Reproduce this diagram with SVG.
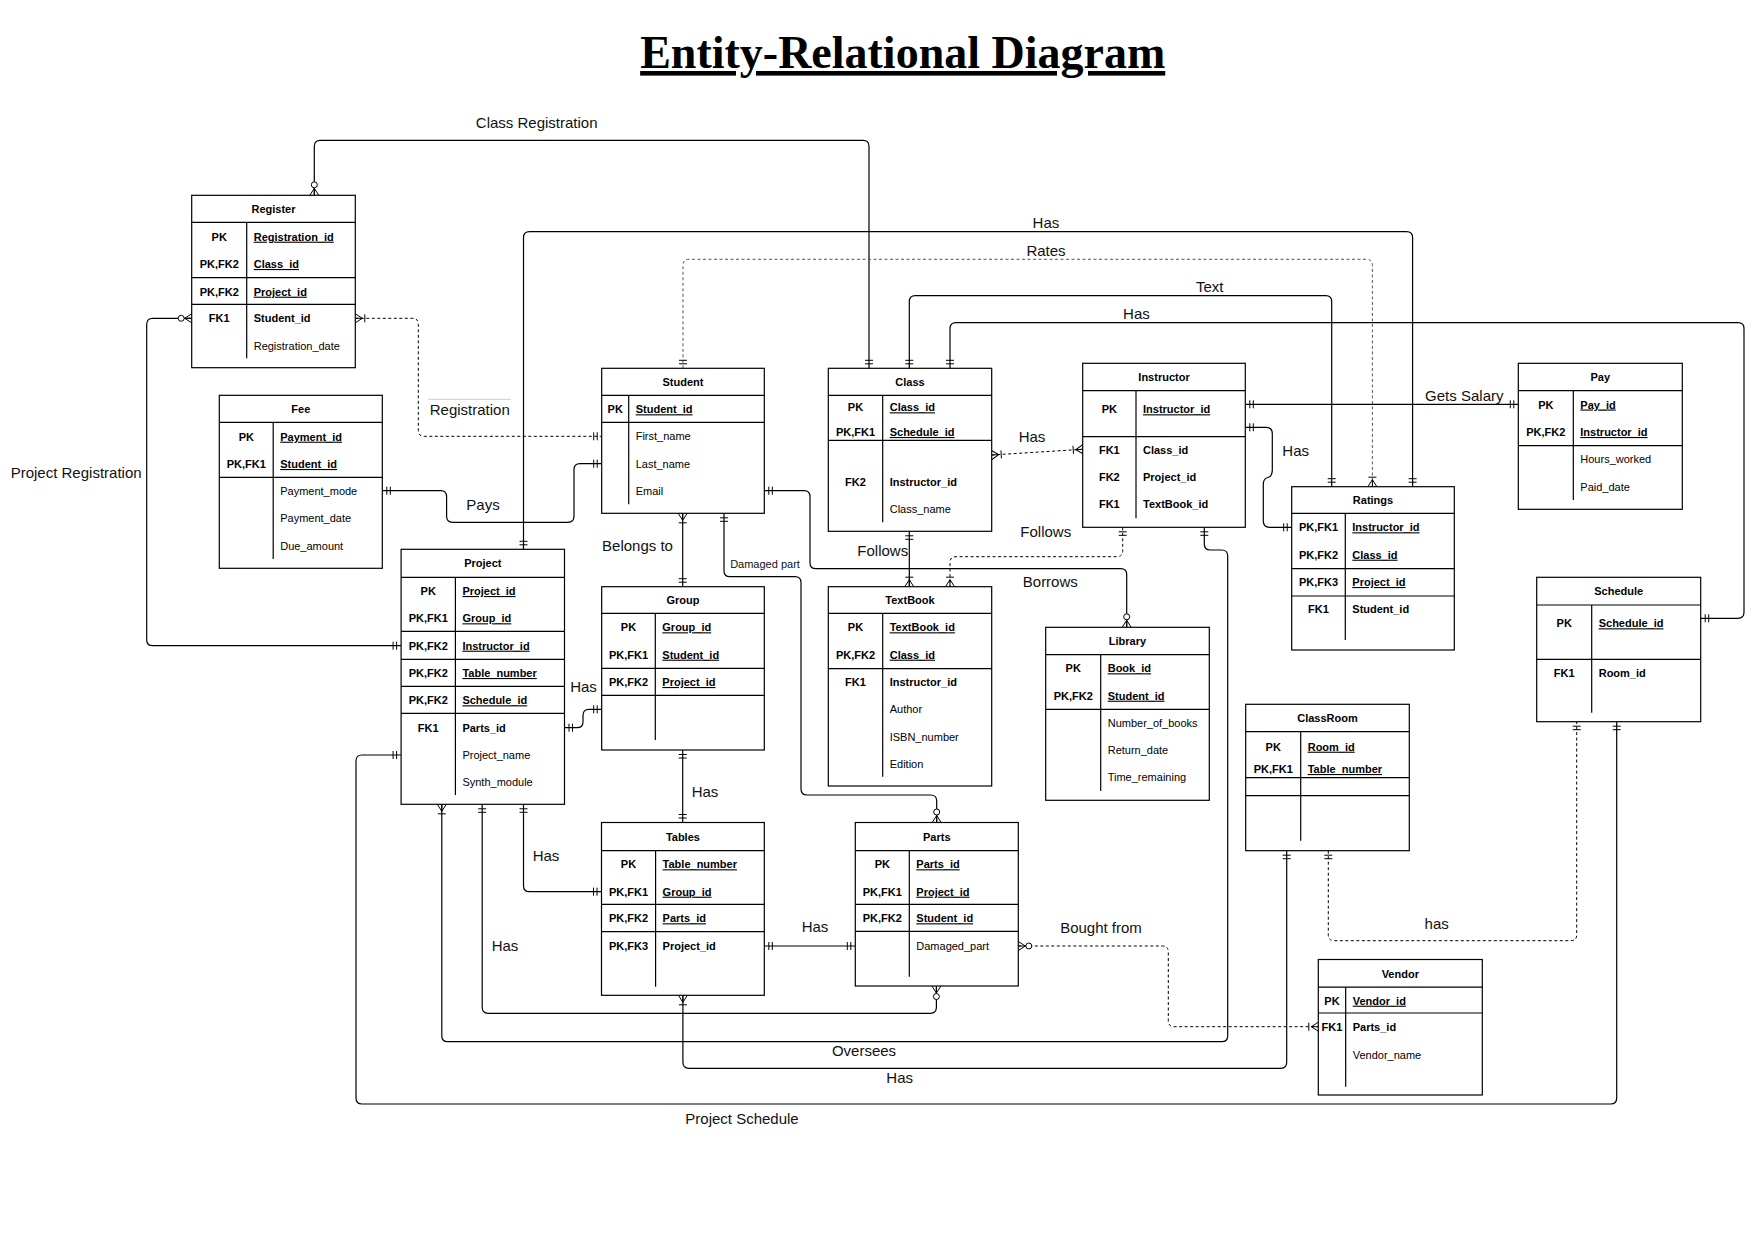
<svg xmlns="http://www.w3.org/2000/svg" width="1755" height="1240" viewBox="0 0 1755 1240">
<style>
.t{font-family:"Liberation Sans",Arial,sans-serif;font-size:11px;fill:#000}
.b{font-weight:bold}
.u{font-weight:bold;text-decoration:underline}
.m{text-anchor:middle}
.k{font-weight:bold;text-anchor:middle}
.lbl{font-family:"Liberation Sans",Arial,sans-serif;font-size:15px;fill:#111;text-anchor:middle}
.box{fill:#fff;stroke:#000;stroke-width:1.2}
.ln{fill:none;stroke:#000;stroke-width:1.2}
.c{fill:none;stroke:#000;stroke-width:1.2}
.d{stroke-dasharray:3 2.5;stroke-width:1}
.ms{fill:none;stroke:#000;stroke-width:1}
</style>
<defs>
<marker id="one" viewBox="-16 -8 18 16" markerWidth="18" markerHeight="16" refX="0" refY="0" orient="auto-start-reverse" markerUnits="userSpaceOnUse"><path class="ms" d="M-4.5,-4V4M-8,-4V4"/></marker>
<marker id="onemany" viewBox="-16 -8 18 16" markerWidth="18" markerHeight="16" refX="0" refY="0" orient="auto-start-reverse" markerUnits="userSpaceOnUse"><path class="ms" d="M0,-4.5L-7,0L0,4.5M-7,0H0M-9.5,-4V4"/></marker>
<marker id="zeromany" viewBox="-16 -8 18 16" markerWidth="18" markerHeight="16" refX="0" refY="0" orient="auto-start-reverse" markerUnits="userSpaceOnUse"><path class="ms" d="M0,-4.5L-7,0L0,4.5M-7,0H0"/><circle cx="-10.5" cy="0" r="3" fill="#fff" stroke="#000" stroke-width="1"/></marker>
</defs>
<rect width="1755" height="1240" fill="#fff"/>
<text x="902.7" y="68" font-family="'Liberation Serif','Times New Roman',serif" font-size="46" font-weight="bold" text-anchor="middle" text-decoration="underline">Entity-Relational Diagram</text>

<g id="connectors">
<path class="c" marker-start="url(#zeromany)" marker-end="url(#one)" d="M314.3,195.3V146.3Q314.3,140.3 320.3,140.3H863Q869,140.3 869,146.3V368.3"/>
<path class="c" marker-start="url(#one)" marker-end="url(#one)" d="M523.5,549.3V237.7Q523.5,231.7 529.5,231.7H1406.6Q1412.6,231.7 1412.6,237.7V486.7"/>
<path class="c d" marker-start="url(#one)" marker-end="url(#onemany)" d="M683,368.3V265.3Q683,259.3 689,259.3H1366.4Q1372.4,259.3 1372.4,265.3V486.7" style="stroke:#555"/>
<path class="c" marker-start="url(#one)" marker-end="url(#one)" d="M909.3,368.3V301.7Q909.3,295.7 915.3,295.7H1325.7Q1331.7,295.7 1331.7,301.7V486.7"/>
<path class="c" marker-start="url(#one)" marker-end="url(#one)" d="M950,368.3V328.7Q950,322.7 956,322.7H1738Q1744,322.7 1744,328.7V612.3Q1744,618.3 1738,618.3H1700.7"/>
<path class="c" marker-start="url(#zeromany)" marker-end="url(#one)" d="M191.7,318.3H152.7Q146.7,318.3 146.7,324.3V639.7Q146.7,645.7 152.7,645.7H401.1"/>
<path class="c d" marker-start="url(#onemany)" marker-end="url(#one)" d="M355.3,318.3H412.3Q418.3,318.3 418.3,324.3V430.3Q418.3,436.3 424.3,436.3H601.7"/>
<path class="c" marker-start="url(#one)" marker-end="url(#one)" d="M382.3,490.7H440.6Q446.6,490.7 446.6,496.7V516.3Q446.6,522.3 452.6,522.3H568Q574,522.3 574,516.3V469.7Q574,463.7 580,463.7H601.7"/>
<path class="c" marker-start="url(#onemany)" marker-end="url(#one)" d="M682.7,513.3V586.7"/>
<path class="c" marker-start="url(#one)" marker-end="url(#zeromany)" d="M724,513.3V570.7Q724,576.7 730,576.7H795Q801,576.7 801,582.7V789Q801,795 807,795H930.7Q936.7,795 936.7,801V822.5"/>
<path class="c" marker-start="url(#one)" marker-end="url(#zeromany)" d="M764.3,490.7H804Q810,490.7 810,496.7V562.7Q810,568.7 816,568.7H1120.7Q1126.7,568.7 1126.7,574.7V627.3"/>
<path class="c" marker-start="url(#one)" marker-end="url(#one)" d="M564.5,727.7H577Q583,727.7 583,721.7V715.3Q583,709.3 589,709.3H601.7"/>
<path class="c" marker-start="url(#one)" marker-end="url(#one)" d="M682.7,750V822.5"/>
<path class="c" marker-start="url(#one)" marker-end="url(#onemany)" d="M909.3,531.3V586.7"/>
<path class="c d" marker-start="url(#onemany)" marker-end="url(#onemany)" d="M991.7,455L1082.7,449.3"/>
<path class="c d" marker-start="url(#one)" marker-end="url(#onemany)" d="M1122.7,527.3V550.7Q1122.7,556.7 1116.7,556.7H956Q950,556.7 950,562.7V586.7"/>
<path class="c" marker-start="url(#one)" marker-end="url(#one)" d="M1245.3,404.3H1518.3"/>
<path class="c" marker-start="url(#one)" marker-end="url(#one)" d="M1245.3,427.3H1266Q1272.3,427.3 1272.3,433.6V470Q1272.3,476.5 1267.8,477.5Q1263.3,478.5 1263.3,484.5V521Q1263.3,527.3 1269.6,527.3H1291.7"/>
<path class="c" marker-start="url(#one)" marker-end="url(#onemany)" d="M1204.3,527.3V544Q1204.3,550 1210.3,550H1221.7Q1227.7,550 1227.7,556V1035.7Q1227.7,1041.7 1221.7,1041.7H447.8Q441.8,1041.7 441.8,1035.7V804.3"/>
<path class="c" marker-start="url(#one)" marker-end="url(#zeromany)" d="M482.2,804.3V1007.3Q482.2,1013.3 488.2,1013.3H930.4Q936.4,1013.3 936.4,1007.3V986"/>
<path class="c" marker-start="url(#one)" marker-end="url(#one)" d="M523.5,804.3V885.7Q523.5,891.7 529.5,891.7H601.5"/>
<path class="c" marker-start="url(#one)" marker-end="url(#one)" d="M764.3,946H855.3"/>
<path class="c d" marker-start="url(#zeromany)" marker-end="url(#onemany)" d="M1018.3,946H1162.3Q1168.3,946 1168.3,952V1020.7Q1168.3,1026.7 1174.3,1026.7H1318.3"/>
<path class="c" marker-start="url(#onemany)" marker-end="url(#one)" d="M682.9,995.3V1062.3Q682.9,1068.3 688.9,1068.3H1280.7Q1286.7,1068.3 1286.7,1062.3V850.7"/>
<path class="c d" marker-start="url(#one)" marker-end="url(#one)" d="M1328.3,850.7V934.7Q1328.3,940.7 1334.3,940.7H1570.7Q1576.7,940.7 1576.7,934.7V721.7"/>
<path class="c" marker-start="url(#one)" marker-end="url(#one)" d="M401.1,755H362Q356,755 356,761V1098Q356,1104 362,1104H1610.7Q1616.7,1104 1616.7,1098V721.7"/>
<line x1="428" y1="399.3" x2="511" y2="399.3" stroke="#ccc" stroke-width="1"/>
</g>

<g id="labels">
<text class="lbl" x="536.7" y="128.2">Class Registration</text>
<text class="lbl" x="1045.9" y="228.2">Has</text>
<text class="lbl" x="1046" y="255.5">Rates</text>
<text class="lbl" x="1209.8" y="291.5">Text</text>
<text class="lbl" x="1136.4" y="318.8">Has</text>
<text class="lbl" x="469.8" y="414.8">Registration</text>
<text class="lbl" x="483" y="509.8">Pays</text>
<text class="lbl" x="10.7" y="478.2" style="text-anchor:start">Project Registration</text>
<text class="lbl" x="637.5" y="550.5">Belongs to</text>
<text class="lbl" x="765" y="568.3" style="font-size:11px">Damaged part</text>
<text class="lbl" x="583.5" y="691.5">Has</text>
<text class="lbl" x="705" y="796.5">Has</text>
<text class="lbl" x="546" y="860.5">Has</text>
<text class="lbl" x="505" y="951.2">Has</text>
<text class="lbl" x="815" y="932.2">Has</text>
<text class="lbl" x="864" y="1055.5">Oversees</text>
<text class="lbl" x="899.7" y="1082.8">Has</text>
<text class="lbl" x="742" y="1123.8">Project Schedule</text>
<text class="lbl" x="1101" y="932.8">Bought from</text>
<text class="lbl" x="1436.7" y="928.8">has</text>
<text class="lbl" x="1032" y="441.5">Has</text>
<text class="lbl" x="882.8" y="555.5">Follows</text>
<text class="lbl" x="1045.8" y="537.2">Follows</text>
<text class="lbl" x="1050.3" y="587.2">Borrows</text>
<text class="lbl" x="1464.3" y="400.5">Gets Salary</text>
<text class="lbl" x="1295.7" y="455.5">Has</text>
</g>

<g id="register">
<rect class="box" x="191.7" y="195.3" width="163.6" height="172.4"/>
<path class="ln" d="M191.7,222.3H355.3M191.7,277.7H355.3M191.7,304.3H355.3M246.7,222.3V358.3"/>
<text class="t k" x="273.5" y="212.8">Register</text>
<text class="t k" x="219.2" y="240.7">PK</text><text class="t u" x="253.7" y="240.7">Registration_id</text>
<text class="t k" x="219.2" y="268">PK,FK2</text><text class="t u" x="253.7" y="268">Class_id</text>
<text class="t k" x="219.2" y="295.7">PK,FK2</text><text class="t u" x="253.7" y="295.7">Project_id</text>
<text class="t k" x="219.2" y="322.3">FK1</text><text class="t b" x="253.7" y="322.3">Student_id</text>
<text class="t" x="253.7" y="349.7">Registration_date</text>
</g>

<g id="fee">
<rect class="box" x="219.3" y="395.3" width="163" height="173"/>
<path class="ln" d="M219.3,422.3H382.3M219.3,477.3H382.3M273.2,422.3V559"/>
<text class="t k" x="300.8" y="412.8">Fee</text>
<text class="t k" x="246.3" y="440.7">PK</text><text class="t u" x="280.2" y="440.7">Payment_id</text>
<text class="t k" x="246.3" y="468">PK,FK1</text><text class="t u" x="280.2" y="468">Student_id</text>
<text class="t" x="280.2" y="495">Payment_mode</text>
<text class="t" x="280.2" y="522.3">Payment_date</text>
<text class="t" x="280.2" y="549.7">Due_amount</text>
</g>

<g id="student">
<rect class="box" x="601.7" y="368.3" width="162.6" height="145"/>
<path class="ln" d="M601.7,395.3H764.3M601.7,422.3H764.3M628.7,395.3V504.3"/>
<text class="t k" x="683" y="385.8">Student</text>
<text class="t k" x="615.2" y="413.3">PK</text><text class="t u" x="635.7" y="413.3">Student_id</text>
<text class="t" x="635.7" y="440.3">First_name</text>
<text class="t" x="635.7" y="467.7">Last_name</text>
<text class="t" x="635.7" y="495">Email</text>
</g>

<g id="class">
<rect class="box" x="828.3" y="368.3" width="163.4" height="163"/>
<path class="ln" d="M828.3,395.3H991.7M828.3,440.3H991.7M882.7,395.3V522.3"/>
<text class="t k" x="910" y="385.8">Class</text>
<text class="t k" x="855.5" y="411.3">PK</text><text class="t u" x="889.7" y="411.3">Class_id</text>
<text class="t k" x="855.5" y="436">PK,FK1</text><text class="t u" x="889.7" y="436">Schedule_id</text>
<text class="t k" x="855.5" y="486">FK2</text><text class="t b" x="889.7" y="486">Instructor_id</text>
<text class="t" x="889.7" y="513">Class_name</text>
</g>

<g id="instructor">
<rect class="box" x="1082.7" y="363.3" width="162.6" height="164"/>
<path class="ln" d="M1082.7,390.7H1245.3M1082.7,436.7H1245.3M1136,390.7V518.3"/>
<text class="t k" x="1164" y="381">Instructor</text>
<text class="t k" x="1109.3" y="413.3">PK</text><text class="t u" x="1143" y="413.3">Instructor_id</text>
<text class="t k" x="1109.3" y="454">FK1</text><text class="t b" x="1143" y="454">Class_id</text>
<text class="t k" x="1109.3" y="481">FK2</text><text class="t b" x="1143" y="481">Project_id</text>
<text class="t k" x="1109.3" y="508.3">FK1</text><text class="t b" x="1143" y="508.3">TextBook_id</text>
</g>

<g id="pay">
<rect class="box" x="1518.3" y="363.3" width="164" height="146"/>
<path class="ln" d="M1518.3,390.7H1682.3M1518.3,445.7H1682.3M1573.3,390.7V500"/>
<text class="t k" x="1600.3" y="381">Pay</text>
<text class="t k" x="1545.8" y="408.5">PK</text><text class="t u" x="1580.3" y="408.5">Pay_id</text>
<text class="t k" x="1545.8" y="436">PK,FK2</text><text class="t u" x="1580.3" y="436">Instructor_id</text>
<text class="t" x="1580.3" y="463">Hours_worked</text>
<text class="t" x="1580.3" y="490.7">Paid_date</text>
</g>

<g id="ratings">
<rect class="box" x="1291.7" y="486.7" width="162.6" height="163.3"/>
<path class="ln" d="M1291.7,513.3H1454.3M1291.7,568.7H1454.3M1291.7,596H1454.3M1345.3,513.3V640"/>
<text class="t k" x="1373" y="504">Ratings</text>
<text class="t k" x="1318.5" y="531.3">PK,FK1</text><text class="t u" x="1352.3" y="531.3">Instructor_id</text>
<text class="t k" x="1318.5" y="558.7">PK,FK2</text><text class="t u" x="1352.3" y="558.7">Class_id</text>
<text class="t k" x="1318.5" y="586">PK,FK3</text><text class="t u" x="1352.3" y="586">Project_id</text>
<text class="t k" x="1318.5" y="613.3">FK1</text><text class="t b" x="1352.3" y="613.3">Student_id</text>
</g>

<g id="project">
<rect class="box" x="401.1" y="549.3" width="163.4" height="255"/>
<path class="ln" d="M401.1,577.3H564.5M401.1,631.3H564.5M401.1,659.3H564.5M401.1,686.3H564.5M401.1,713.3H564.5M455.4,577.3V795"/>
<text class="t k" x="482.8" y="567.3">Project</text>
<text class="t k" x="428.2" y="595">PK</text><text class="t u" x="462.4" y="595">Project_id</text>
<text class="t k" x="428.2" y="622.3">PK,FK1</text><text class="t u" x="462.4" y="622.3">Group_id</text>
<text class="t k" x="428.2" y="649.7">PK,FK2</text><text class="t u" x="462.4" y="649.7">Instructor_id</text>
<text class="t k" x="428.2" y="677">PK,FK2</text><text class="t u" x="462.4" y="677">Table_number</text>
<text class="t k" x="428.2" y="704.3">PK,FK2</text><text class="t u" x="462.4" y="704.3">Schedule_id</text>
<text class="t k" x="428.2" y="731.7">FK1</text><text class="t b" x="462.4" y="731.7">Parts_id</text>
<text class="t" x="462.4" y="759">Project_name</text>
<text class="t" x="462.4" y="786">Synth_module</text>
</g>

<g id="group">
<rect class="box" x="601.7" y="586.7" width="162.6" height="163.3"/>
<path class="ln" d="M601.7,613.3H764.3M601.7,668.3H764.3M601.7,695.3H764.3M655.3,613.3V740"/>
<text class="t k" x="683" y="604">Group</text>
<text class="t k" x="628.5" y="631.3">PK</text><text class="t u" x="662.3" y="631.3">Group_id</text>
<text class="t k" x="628.5" y="658.7">PK,FK1</text><text class="t u" x="662.3" y="658.7">Student_id</text>
<text class="t k" x="628.5" y="686">PK,FK2</text><text class="t u" x="662.3" y="686">Project_id</text>
</g>

<g id="textbook">
<rect class="box" x="828.3" y="586.7" width="163.4" height="199.3"/>
<path class="ln" d="M828.3,613.3H991.7M828.3,668.7H991.7M882.7,613.3V776.7"/>
<text class="t k" x="910" y="604">TextBook</text>
<text class="t k" x="855.5" y="631.3">PK</text><text class="t u" x="889.7" y="631.3">TextBook_id</text>
<text class="t k" x="855.5" y="658.7">PK,FK2</text><text class="t u" x="889.7" y="658.7">Class_id</text>
<text class="t k" x="855.5" y="686">FK1</text><text class="t b" x="889.7" y="686">Instructor_id</text>
<text class="t" x="889.7" y="713.3">Author</text>
<text class="t" x="889.7" y="740.7">ISBN_number</text>
<text class="t" x="889.7" y="768">Edition</text>
</g>

<g id="library">
<rect class="box" x="1045.7" y="627.3" width="163.6" height="173"/>
<path class="ln" d="M1045.7,654.7H1209.3M1045.7,709.3H1209.3M1100.7,654.7V791"/>
<text class="t k" x="1127.5" y="645">Library</text>
<text class="t k" x="1073.2" y="672.3">PK</text><text class="t u" x="1107.7" y="672.3">Book_id</text>
<text class="t k" x="1073.2" y="699.7">PK,FK2</text><text class="t u" x="1107.7" y="699.7">Student_id</text>
<text class="t" x="1107.7" y="727">Number_of_books</text>
<text class="t" x="1107.7" y="754">Return_date</text>
<text class="t" x="1107.7" y="781">Time_remaining</text>
</g>

<g id="schedule">
<rect class="box" x="1536.7" y="577.3" width="164" height="144.4"/>
<path class="ln" d="M1536.7,605H1700.7M1536.7,659.3H1700.7M1591.7,605V712.7"/>
<text class="t k" x="1618.7" y="595.2">Schedule</text>
<text class="t k" x="1564.2" y="627.3">PK</text><text class="t u" x="1598.7" y="627.3">Schedule_id</text>
<text class="t k" x="1564.2" y="677.3">FK1</text><text class="t b" x="1598.7" y="677.3">Room_id</text>
</g>

<g id="classroom">
<rect class="box" x="1245.7" y="704.3" width="163.6" height="146.4"/>
<path class="ln" d="M1245.7,731.7H1409.3M1245.7,777.7H1409.3M1245.7,795.7H1409.3M1300.7,731.7V840.7"/>
<text class="t k" x="1327.5" y="722">ClassRoom</text>
<text class="t k" x="1273.2" y="750.7">PK</text><text class="t u" x="1307.7" y="750.7">Room_id</text>
<text class="t k" x="1273.2" y="773">PK,FK1</text><text class="t u" x="1307.7" y="773">Table_number</text>
</g>

<g id="tables">
<rect class="box" x="601.5" y="822.5" width="162.8" height="172.8"/>
<path class="ln" d="M601.5,850.7H764.3M601.5,904.3H764.3M601.5,931.7H764.3M655.6,850.7V986.7"/>
<text class="t k" x="682.9" y="840.6">Tables</text>
<text class="t k" x="628.5" y="868.3">PK</text><text class="t u" x="662.6" y="868.3">Table_number</text>
<text class="t k" x="628.5" y="895.7">PK,FK1</text><text class="t u" x="662.6" y="895.7">Group_id</text>
<text class="t k" x="628.5" y="922.3">PK,FK2</text><text class="t u" x="662.6" y="922.3">Parts_id</text>
<text class="t k" x="628.5" y="950">PK,FK3</text><text class="t b" x="662.6" y="950">Project_id</text>
</g>

<g id="parts">
<rect class="box" x="855.3" y="822.5" width="163" height="163.5"/>
<path class="ln" d="M855.3,850.7H1018.3M855.3,904.3H1018.3M855.3,931.3H1018.3M909.3,850.7V976.7"/>
<text class="t k" x="936.8" y="840.6">Parts</text>
<text class="t k" x="882.3" y="868.3">PK</text><text class="t u" x="916.3" y="868.3">Parts_id</text>
<text class="t k" x="882.3" y="895.7">PK,FK1</text><text class="t u" x="916.3" y="895.7">Project_id</text>
<text class="t k" x="882.3" y="922.3">PK,FK2</text><text class="t u" x="916.3" y="922.3">Student_id</text>
<text class="t" x="916.3" y="950">Damaged_part</text>
</g>

<g id="vendor">
<rect class="box" x="1318.3" y="959.5" width="164" height="135.5"/>
<path class="ln" d="M1318.3,987.2H1482.3M1318.3,1013H1482.3M1345.7,987.2V1086.7"/>
<text class="t k" x="1400.3" y="977.5">Vendor</text>
<text class="t k" x="1332" y="1004.7">PK</text><text class="t u" x="1352.7" y="1004.7">Vendor_id</text>
<text class="t k" x="1332" y="1031.3">FK1</text><text class="t b" x="1352.7" y="1031.3">Parts_id</text>
<text class="t" x="1352.7" y="1059">Vendor_name</text>
</g>
</svg>
